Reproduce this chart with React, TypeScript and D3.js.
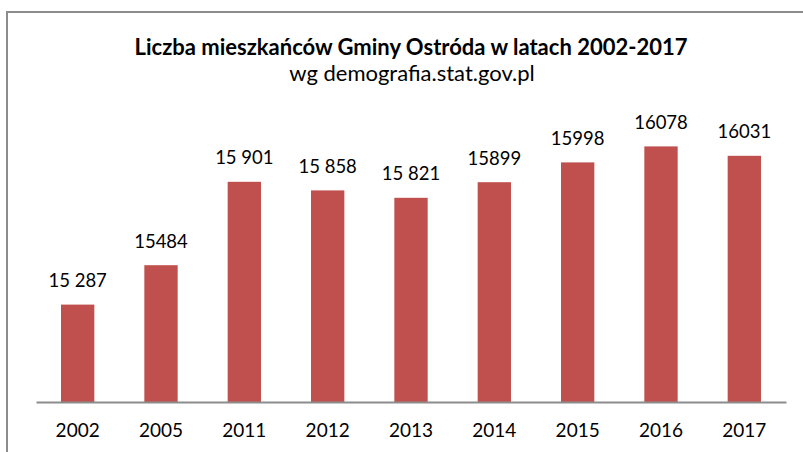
import React, { useEffect, useRef } from "react";
import * as d3 from "d3";

const years = ["2002", "2005", "2011", "2012", "2013", "2014", "2015", "2016", "2017"];
const population = [15287, 15484, 15901, 15858, 15821, 15899, 15998, 16078, 16031];
const valueLabels = ["15 287", "15484", "15 901", "15 858", "15 821", "15899", "15998", "16078", "16031"];

const title = "Liczba mieszkańców Gminy Ostróda w latach 2002-2017";
const subtitle = "wg demografia.stat.gov.pl";

export default function App() {
  const ref = useRef<SVGSVGElement>(null);

  useEffect(() => {
    document.body.style.margin = "0";
    const width = 803;
    const height = 452;
    const margin = { top: 122, left: 36, bottom: 50, right: 17 };

    const svg = d3.select(ref.current);
    svg.selectAll("*").remove();
    svg.attr("width", width).attr("height", height).style("display", "block");

    const font = "Lato, 'Open Sans', sans-serif";

    // chart frame
    svg
      .append("rect")
      .attr("x", 7)
      .attr("y", 12)
      .attr("width", 820)
      .attr("height", 460)
      .attr("fill", "white")
      .attr("stroke", "#8c8c8c")
      .attr("stroke-width", 2);

    svg
      .append("text")
      .attr("x", 411)
      .attr("y", 55)
      .attr("text-anchor", "middle")
      .style("font-family", font)
      .style("font-weight", "bold")
      .style("font-size", "22px")
      .text(title);

    svg
      .append("text")
      .attr("x", 412)
      .attr("y", 81)
      .attr("text-anchor", "middle")
      .style("font-family", font)
      .style("font-size", "22px")
      .text(subtitle);

    const x = d3
      .scaleBand()
      .domain(years)
      .range([margin.left, width - margin.right])
      .paddingInner(0.6)
      .paddingOuter(0.3);

    const y = d3
      .scaleLinear()
      .domain([14800, 16200])
      .range([height - margin.bottom, margin.top]);

    const g = svg.append("g");

    g.selectAll("rect.bar")
      .data(population)
      .enter()
      .append("rect")
      .attr("class", "bar")
      .attr("x", (d, i) => x(years[i])!)
      .attr("y", d => y(d))
      .attr("width", x.bandwidth())
      .attr("height", d => y(14800) - y(d))
      .attr("fill", "#c0504d");

    g.selectAll("text.val")
      .data(population)
      .enter()
      .append("text")
      .attr("class", "val")
      .attr("x", (d, i) => x(years[i])! + x.bandwidth() / 2)
      .attr("y", d => y(d) - 17.5)
      .attr("text-anchor", "middle")
      .style("font-family", font)
      .style("font-size", "18.5px")
      .text((d, i) => valueLabels[i]);

    const axis = g
      .append("g")
      .attr("transform", `translate(0,${y(14800)})`)
      .call(d3.axisBottom(x).tickSize(0).tickPadding(22));
    axis.select(".domain").attr("stroke", "#8c8c8c").attr("stroke-width", 2);
    axis
      .selectAll("text")
      .style("font-family", font)
      .style("font-size", "19px")
      .attr("fill", "#000");
  }, []);

  return <svg ref={ref}></svg>;
}
